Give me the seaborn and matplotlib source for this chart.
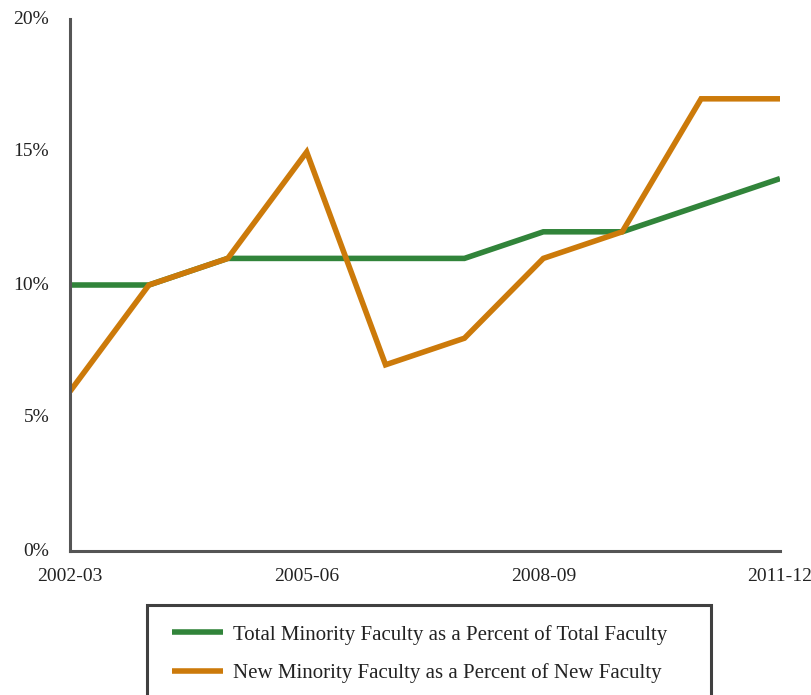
import matplotlib
matplotlib.use("Agg")
import matplotlib.pyplot as plt
import seaborn as sns
import pandas as pd
from matplotlib.patches import Rectangle
from matplotlib.lines import Line2D
from matplotlib.ticker import FuncFormatter

years = ["2002-03", "2003-04", "2004-05", "2005-06", "2006-07",
         "2007-08", "2008-09", "2009-10", "2010-11", "2011-12"]
total_minority = [10, 10, 11, 11, 11, 11, 12, 12, 13, 14]
new_minority = [6, 10, 11, 15, 7, 8, 11, 12, 17, 17]
series_names = ["Total Minority Faculty as a Percent of Total Faculty",
                "New Minority Faculty as a Percent of New Faculty"]
shown_ticks = ["2002-03", "2005-06", "2008-09", "2011-12"]
y_ticks = [0, 5, 10, 15, 20]

sns.set_theme(style="white")
plt.rcParams["font.family"] = ["Liberation Serif", "DejaVu Serif"]

df = pd.DataFrame({
    "year": years * 2,
    "idx": list(range(len(years))) * 2,
    "value": total_minority + new_minority,
    "series": [series_names[0]] * len(years) + [series_names[1]] * len(years),
})

fig = plt.figure(figsize=(8.12, 6.95), dpi=100)
ax = fig.add_axes([70/812, 1-551/695, (780-70)/812, (551-19)/695])

palette = {series_names[0]: "#31843A", series_names[1]: "#CC7A0A"}
lw = 4.0
sns.lineplot(data=df, x="idx", y="value", hue="series", palette=palette,
             linewidth=lw, ax=ax, legend=False, sort=False)
for l in ax.lines:
    l.set_solid_capstyle("butt")
    l.set_solid_joinstyle("miter")

ax.set_xlim(0, len(years) - 1)
ax.set_ylim(0, 20)
ax.set_yticks(y_ticks)
ax.yaxis.set_major_formatter(FuncFormatter(lambda v, p: f"{int(v)}%"))
ax.set_xticks([years.index(t) for t in shown_ticks])
ax.set_xticklabels(shown_ticks)
ax.set_xlabel("")
ax.set_ylabel("")
ax.tick_params(axis="both", length=0, labelsize=14, colors="#222222")
ax.tick_params(axis="y", pad=15)
ax.tick_params(axis="x", pad=12)
for lab in ax.get_yticklabels():
    lab.set_verticalalignment("center")
for s in ["top", "right"]:
    ax.spines[s].set_visible(False)
for s in ["left", "bottom"]:
    ax.spines[s].set_color("#555555")
    ax.spines[s].set_linewidth(2.2)

# legend box
rect = Rectangle((147/812, -0.1), (711-147)/812, 0.1 + (1-605/695),
                 transform=fig.transFigure, fill=False, edgecolor="#404040",
                 linewidth=2.2, clip_on=False)
fig.patches.append(rect)

handles = [Line2D([0], [0], color=palette[n], linewidth=lw, solid_capstyle="butt") for n in series_names]
fig.legend(handles, series_names, loc="upper left",
           bbox_to_anchor=(153/812, 1-606/695), frameon=False,
           fontsize=15, handlelength=2.45, handletextpad=0.5, labelspacing=0.9,
           labelcolor="#222222")

fig.savefig("out.png", dpi=100)
